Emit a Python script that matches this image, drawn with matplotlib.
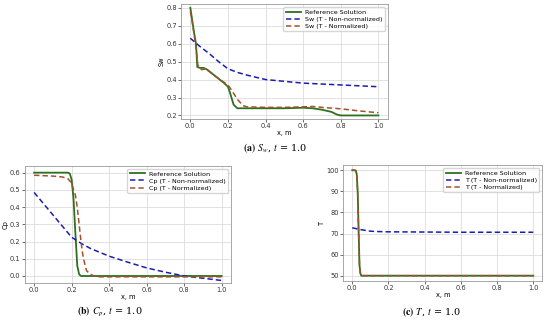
import matplotlib
matplotlib.use("Agg")
import matplotlib.pyplot as plt

# Sw
sw_ref_x = [0, 0.01, 0.02, 0.03, 0.037, 0.05, 0.07, 0.09, 0.12, 0.15, 0.18, 0.2, 0.21, 0.23, 0.25, 0.3, 0.4, 0.5, 0.6, 0.65, 0.7, 0.75, 0.78, 0.8, 0.9, 1.0]
sw_ref_y = [0.80, 0.73, 0.66, 0.60, 0.47, 0.465, 0.465, 0.455, 0.43, 0.405, 0.38, 0.36, 0.33, 0.26, 0.24, 0.24, 0.24, 0.24, 0.243, 0.24, 0.232, 0.22, 0.205, 0.2, 0.2, 0.2]
sw_nn_x = [0, 0.05, 0.1, 0.15, 0.2, 0.25, 0.3, 0.4, 0.5, 0.6, 0.7, 0.8, 0.9, 1.0]
sw_nn_y = [0.63, 0.585, 0.545, 0.5, 0.46, 0.44, 0.425, 0.40, 0.39, 0.38, 0.375, 0.37, 0.365, 0.36]
sw_n_x = [0, 0.01, 0.02, 0.03, 0.04, 0.05, 0.06, 0.08, 0.12, 0.15, 0.2, 0.22, 0.25, 0.28, 0.3, 0.4, 0.5, 0.6, 0.65, 0.7, 0.8, 0.9, 1.0]
sw_n_y = [0.78, 0.72, 0.65, 0.58, 0.48, 0.465, 0.455, 0.46, 0.43, 0.405, 0.37, 0.34, 0.29, 0.255, 0.248, 0.245, 0.245, 0.248, 0.25, 0.245, 0.237, 0.225, 0.215]

# Cp
cp_ref_x = [0, 0.1, 0.18, 0.19, 0.2, 0.21, 0.22, 0.23, 0.24, 0.25, 0.3, 0.5, 1.0]
cp_ref_y = [0.6, 0.6, 0.6, 0.595, 0.56, 0.45, 0.25, 0.06, 0.01, 0.0, 0.0, 0.0, 0.0]
cp_nn_x = [0, 0.05, 0.1, 0.15, 0.2, 0.25, 0.3, 0.4, 0.5, 0.6, 0.7, 0.8, 0.9, 1.0]
cp_nn_y = [0.485, 0.42, 0.355, 0.29, 0.225, 0.19, 0.16, 0.115, 0.08, 0.047, 0.022, 0.0, -0.013, -0.026]
cp_n_x = [0, 0.1, 0.15, 0.18, 0.2, 0.21, 0.22, 0.23, 0.24, 0.25, 0.26, 0.27, 0.28, 0.3, 0.32, 0.35, 0.5, 0.7, 1.0]
cp_n_y = [0.585, 0.58, 0.575, 0.565, 0.54, 0.5, 0.47, 0.4, 0.3, 0.2, 0.12, 0.07, 0.03, 0.01, 0.0, -0.005, -0.005, -0.005, -0.005]

# T
t_ref_x = [0, 0.015, 0.02, 0.025, 0.03, 0.035, 0.04, 0.045, 0.05, 0.1, 1.0]
t_ref_y = [100, 100, 99.8, 98, 90, 72, 55, 51, 50, 50, 50]
t_nn_x = [0, 0.05, 0.1, 0.15, 0.2, 0.4, 0.6, 0.8, 1.0]
t_nn_y = [72.7, 71.8, 71.1, 70.9, 70.8, 70.7, 70.6, 70.6, 70.6]
t_n_x = [0, 0.015, 0.02, 0.025, 0.03, 0.035, 0.04, 0.045, 0.05, 0.1, 1.0]
t_n_y = [100, 99.9, 99.6, 97.5, 89, 71, 55, 51, 50, 50, 50]

xticks = [0.0, 0.2, 0.4, 0.6, 0.8, 1.0]

green = "#2f6f1f"
blue = "#1c1cb0"
brown = "#a0522d"

plt.rcParams["mathtext.fontset"] = "stix"

fig = plt.figure(figsize=(5.5, 3.2), dpi=100)


def panel(rect, ref, nn, nrm, name, ylabel, ylim, yticks, ytfmt):
    ax = fig.add_axes(rect)
    ax.plot(ref[0], ref[1], color=green, lw=1.3, label="Reference Solution")
    ax.plot(nn[0], nn[1], color=blue, lw=1.1, ls=(0, (3.5, 2)), label=name + " (T - Non-normalized)")
    ax.plot(nrm[0], nrm[1], color=brown, lw=1.1, ls=(0, (3.5, 2)), label=name + " (T - Normalized)")
    ax.set_xlim(-0.05, 1.05)
    ax.set_ylim(*ylim)
    ax.set_xticks(xticks)
    ax.set_xticklabels(["%.1f" % v for v in xticks])
    ax.set_yticks(yticks)
    ax.set_yticklabels([ytfmt % v for v in yticks])
    ax.tick_params(labelsize=4.8, length=2, width=0.5, pad=1, colors="#333333")
    ax.set_xlabel("x, m", fontsize=4.8, labelpad=0.5)
    ax.set_ylabel(ylabel, fontsize=4.8, labelpad=1)
    ax.grid(True, color="#dddddd", lw=0.6)
    for s in ax.spines.values():
        s.set_color("#999999")
        s.set_linewidth(0.6)
    ax.legend(loc="upper right", fontsize=4.6, handlelength=2.4, frameon=True,
              borderpad=0.35, labelspacing=0.25, handletextpad=0.6)
    return ax


panel([0.329, 0.628, 0.376, 0.359], (sw_ref_x, sw_ref_y), (sw_nn_x, sw_nn_y), (sw_n_x, sw_n_y),
      "Sw", "Sw", (0.18, 0.82), [0.2, 0.3, 0.4, 0.5, 0.6, 0.7, 0.8], "%.1f")
panel([0.045, 0.116, 0.375, 0.366], (cp_ref_x, cp_ref_y), (cp_nn_x, cp_nn_y), (cp_n_x, cp_n_y),
      "Cp", "Cp", (-0.04, 0.64), [0.0, 0.1, 0.2, 0.3, 0.4, 0.5, 0.6], "%.1f")
panel([0.624, 0.122, 0.362, 0.3625], (t_ref_x, t_ref_y), (t_nn_x, t_nn_y), (t_n_x, t_n_y),
      "T", "T", (47.5, 102.5), [50, 60, 70, 80, 90, 100], "%d")

cap = dict(fontsize=7, family="serif", ha="center", va="center")
fig.text(0.5, 1 - 148 / 320, r"$\mathbf{(a)}$ $S_w$, $t$ = 1.0", **cap)
fig.text(0.20, 1 - 312 / 320, r"$\mathbf{(b)}$ $C_p$, $t$ = 1.0", **cap)
fig.text(0.785, 1 - 312 / 320, r"$\mathbf{(c)}$ $T$, $t$ = 1.0", **cap)

fig.savefig("out.png", dpi=100)
